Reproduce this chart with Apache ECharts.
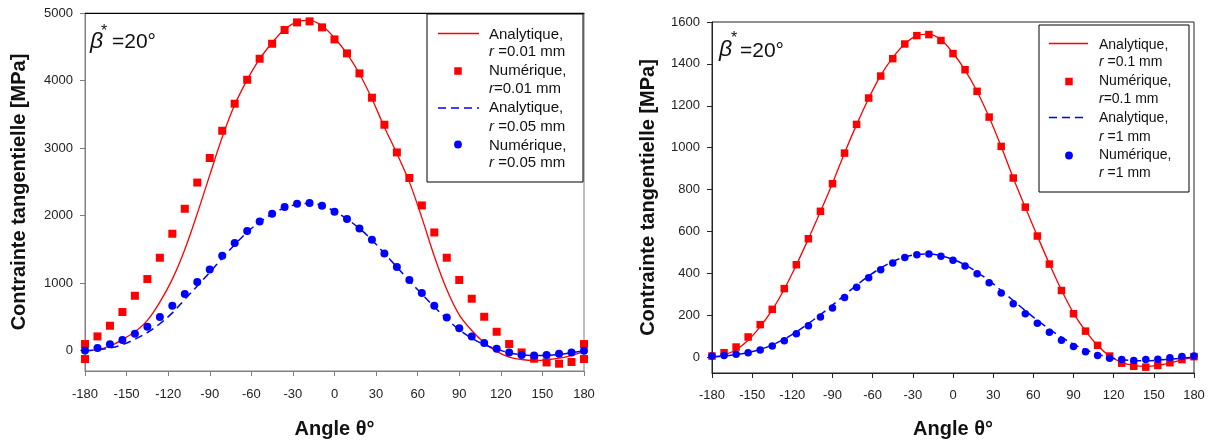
<!DOCTYPE html>
<html><head><meta charset="utf-8">
<script src="https://cdn.jsdelivr.net/npm/echarts@6/dist/echarts.min.js"></script>
<style>html,body{margin:0;padding:0;background:#fff}#c{width:1212px;height:441px}</style>
</head><body><div id="c"></div>
<script>
// ---------- data ----------
const angles = [-180,-171,-162,-153,-144,-135,-126,-117,-108,-99,-90,-81,-72,-63,-54,-45,-36,-27,-18,-9,0,9,18,27,36,45,54,63,72,81,90,99,108,117,126,135,144,153,162,171,180];
const xTicks = [-180,-150,-120,-90,-60,-30,0,30,60,90,120,150,180];
const leftYTicks = [0,1000,2000,3000,4000,5000];
const rightYTicks = [0,200,400,600,800,1000,1200,1400,1600];

// left panel (r = 0.01 mm, r = 0.05 mm)
const anaR001 = [0,18,70,165,280,450,720,1060,1500,2030,2600,3160,3640,4010,4320,4560,4760,4870,4890,4810,4630,4400,4100,3730,3310,2920,2500,1970,1400,905,530,300,120,-10,-95,-130,-143,-135,-110,-72,-10];
const numR001 = [99,212,370,573,814,1061,1377,1732,2102,2490,2853,3257,3657,4012,4323,4545,4748,4861,4876,4787,4609,4402,4106,3746,3346,2936,2557,2151,1751,1377,1047,770,503,281,99,-25,-118,-173,-192,-167,99];
const numR001ExtraAngles = [-180,180];
const numR001ExtraValues = [-123,-123];
const anaR005 = [0,12,40,90,170,270,400,560,760,960,1160,1370,1570,1755,1905,2025,2115,2165,2180,2150,2065,1950,1810,1640,1440,1240,1035,840,650,470,310,185,90,25,-30,-60,-70,-68,-55,-30,0];
const numR005 = [4,40,95,160,252,355,500,666,840,1017,1204,1407,1594,1772,1915,2028,2127,2176,2186,2147,2058,1950,1811,1643,1441,1239,1047,854,666,493,333,212,114,30,-25,-62,-69,-62,-44,-25,0];

// right panel (r = 0.1 mm, r = 1 mm)
const anaR01 = [0,10,35,80,145,225,325,440,565,695,830,975,1110,1235,1345,1430,1495,1535,1542,1515,1452,1370,1268,1145,1005,855,715,578,445,320,210,125,55,5,-25,-40,-45,-40,-28,-13,0];
const numR01 = [5,21,48,96,155,228,327,441,565,696,828,974,1111,1237,1342,1425,1495,1535,1540,1512,1449,1372,1269,1146,1006,855,716,578,444,318,207,124,56,5,-29,-44,-48,-40,-27,-12,2];
const anaR1 = [0,5,12,22,37,58,86,120,160,203,248,296,343,387,425,456,478,490,492,484,466,440,405,365,318,270,222,176,134,95,62,35,14,-2,-12,-17,-18,-15,-10,-5,0];
const numR1 = [5,8,13,21,34,53,78,112,150,191,234,285,333,379,417,449,475,489,492,481,462,435,398,355,306,255,207,162,119,80,51,26,8,-6,-12,-16,-12,-10,-3,3,5];

const legendLeft = [['Analytique,', 'r', ' =0.01 mm'], ['Numérique,', 'r', '=0.01 mm'], ['Analytique,', 'r', ' =0.05 mm'], ['Numérique,', 'r', ' =0.05 mm']];
const legendRight = [['Analytique,', 'r', ' =0.1 mm'], ['Numérique,', 'r', '=0.1 mm'], ['Analytique,', 'r', ' =1 mm'], ['Numérique,', 'r', ' =1 mm']];

// ---------- chart ----------
const FONT = '"Liberation Sans", Arial, sans-serif';
const RED = '#ff0000', BLUE = '#0000ff';
const pairs = (xs, ys) => xs.map((x, i) => [x, ys[i]]);
const plain = v => String(v);

function xAxisBottom(grid, color, margin, gap) {
  return {
    gridIndex: grid, type: 'value', min: -180, max: 180, interval: 30,
    axisLine: {show: true, onZero: false, lineStyle: {color: color, width: 1}},
    axisTick: {show: true, length: 5, lineStyle: {color: color}},
    axisLabel: {margin: margin, fontSize: 13, color: '#222', fontFamily: FONT,
      customValues: xTicks, formatter: plain},
    splitLine: {show: false},
    name: 'Angle θ°', nameLocation: 'middle', nameGap: gap,
    nameTextStyle: {fontSize: 20, fontWeight: 'bold', color: '#111', fontFamily: FONT}
  };
}
function yAxisLeft(grid, min, max, ticks, color, gap) {
  return {
    gridIndex: grid, type: 'value', min: min, max: max,
    axisLine: {show: true, onZero: false, lineStyle: {color: color, width: 1}},
    axisTick: {show: true, length: 5, customValues: ticks, lineStyle: {color: color}},
    axisLabel: {margin: 12, fontSize: 13, color: '#222', fontFamily: FONT, customValues: ticks, formatter: plain},
    splitLine: {show: false},
    name: 'Contrainte tangentielle [MPa]', nameLocation: 'middle', nameGap: gap,
    nameTextStyle: {fontSize: 20, fontWeight: 'bold', color: '#111', fontFamily: FONT}
  };
}
function lineSeries(xi, yi, ys, color, dashed) {
  return {type: 'line', xAxisIndex: xi, yAxisIndex: yi, data: pairs(angles, ys),
    smooth: 0.35, symbol: 'none', z: 3,
    lineStyle: {color: color, width: dashed ? 1.5 : 1.3, type: dashed ? [8, 5] : 'solid'}};
}
function scatterSeries(xi, yi, data, color, sym, size, z) {
  return {type: 'scatter', xAxisIndex: xi, yAxisIndex: yi, data: data, symbol: sym,
    symbolSize: size, clip: false, z: z, itemStyle: {color: color, opacity: 1}};
}

function legendGraphics(box, lineX1, lineX2, symX, textX, rowYs, symYs, fontSize, labels) {
  const els = [];
  els.push({type: 'rect', shape: {x: box[0], y: box[1], width: box[2], height: box[3]},
    style: {fill: '#fff', stroke: '#000', lineWidth: 1}, z: 10});
  els.push({type: 'line', shape: {x1: lineX1, y1: symYs[0], x2: lineX2, y2: symYs[0]},
    style: {stroke: RED, lineWidth: 1.5}, z: 11});
  els.push({type: 'rect', shape: {x: symX - 3.75, y: symYs[1] - 3.75, width: 7.5, height: 7.5},
    style: {fill: RED}, z: 11});
  els.push({type: 'line', shape: {x1: lineX1, y1: symYs[2], x2: lineX2, y2: symYs[2]},
    style: {stroke: BLUE, lineWidth: 1.5, lineDash: [8, 5]}, z: 11});
  els.push({type: 'circle', shape: {cx: symX, cy: symYs[3], r: 3.9},
    style: {fill: BLUE}, z: 11});
  labels.forEach((lab, i) => {
    els.push({type: 'text', x: textX, y: rowYs[2 * i], z: 11,
      style: {text: lab[0], font: fontSize + 'px ' + FONT, fill: '#111',
        align: 'left', verticalAlign: 'middle'}});
    els.push({type: 'text', x: textX, y: rowYs[2 * i + 1], z: 11,
      style: {text: '{i|' + lab[1] + '}{n|' + lab[2] + '}', fill: '#111',
        align: 'left', verticalAlign: 'middle', font: fontSize + 'px ' + FONT,
        rich: {i: {fontStyle: 'italic', fontSize: fontSize, fontFamily: FONT, fill: '#111'},
               n: {fontSize: fontSize, fontFamily: FONT, fill: '#111'}}}});
  });
  return els;
}
function betaGraphics(bx, by, sx, sy, tx, ty) {
  return [
    {type: 'text', x: bx, y: by, z: 12, style: {text: 'β', font: 'italic 23px ' + FONT, fill: '#111', align: 'left', verticalAlign: 'middle'}},
    {type: 'text', x: sx, y: sy, z: 12, style: {text: '*', font: '16px ' + FONT, fill: '#111', align: 'left', verticalAlign: 'middle'}},
    {type: 'text', x: tx, y: ty, z: 12, style: {text: '=20°', font: '21px ' + FONT, fill: '#111', align: 'left', verticalAlign: 'middle'}}
  ];
}

const chart = echarts.init(document.getElementById('c'), null, {renderer: 'canvas'});
chart.setOption({
  animation: false,
  backgroundColor: '#fff',
  grid: [
    {left: 85, top: 13, width: 499, height: 358, show: true, borderColor: '#808080', borderWidth: 1,
      backgroundColor: 'transparent', containLabel: false, outerBoundsMode: 'none'},
    {left: 712, top: 22, width: 482, height: 351, show: true, borderColor: '#222', borderWidth: 1,
      backgroundColor: 'transparent', containLabel: false, outerBoundsMode: 'none'}
  ],
  xAxis: [
    xAxisBottom(0, '#808080', 17, 48),
    {gridIndex: 0, type: 'value', position: 'top', min: -180, max: 180,
      axisLine: {show: true, onZero: false, lineStyle: {color: '#000'}},
      axisTick: {show: false}, axisLabel: {show: false}, splitLine: {show: false}},
    xAxisBottom(1, '#222', 16, 46)
  ],
  yAxis: [
    yAxisLeft(0, -300, 5000, leftYTicks, '#808080', 56),
    yAxisLeft(1, -76, 1600, rightYTicks, '#222', 54)
  ],
  series: [
    lineSeries(0, 0, anaR001, RED, false),
    scatterSeries(0, 0, pairs(angles, numR001), RED, 'rect', 8, 4),
    scatterSeries(0, 0, pairs(numR001ExtraAngles, numR001ExtraValues), RED, 'rect', 8, 4),
    lineSeries(0, 0, anaR005, BLUE, true),
    scatterSeries(0, 0, pairs(angles, numR005), BLUE, 'circle', 8, 5),

    lineSeries(2, 1, anaR01, RED, false),
    scatterSeries(2, 1, pairs(angles, numR01), RED, 'rect', 7.5, 4),
    lineSeries(2, 1, anaR1, BLUE, true),
    scatterSeries(2, 1, pairs(angles, numR1), BLUE, 'circle', 7.5, 5)
  ],
  graphic: [].concat(
    legendGraphics([427, 14, 156, 168], 438, 479, 458, 489,
      [35, 52, 71, 89, 108, 127, 146, 163], [33.5, 71, 108, 144.5], 15, legendLeft),
    legendGraphics([1039, 25, 150, 167], 1049, 1088, 1069, 1099,
      [45, 62, 81, 99, 118, 137, 155, 173], [43.5, 81.5, 117.5, 155.5], 14, legendRight),
    betaGraphics(90, 41.5, 101, 31.5, 112, 42.7),
    betaGraphics(719, 50, 731, 38.5, 740, 51)
  )
});
</script>
</body></html>
